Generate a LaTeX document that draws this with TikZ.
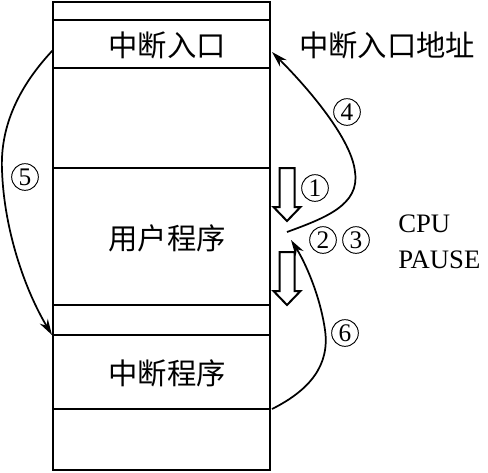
\documentclass[tikz,border=0pt]{standalone}
\usepackage{fontspec}
\setmainfont{Liberation Serif}
\newfontfamily\cjk{Noto Sans CJK SC}
\usetikzlibrary{arrows.meta}

\begin{document}
\begin{tikzpicture}[x=0.75pt, y=-0.75pt,
    mem/.style={line width=2.2pt},
    flow/.style={line width=1.3pt, -{Stealth[length=12pt, width=7pt]}},
    hollow/.style={line width=1.5pt, line join=miter},
    lbl/.style={font=\cjk\fontsize{22}{24}\selectfont, inner sep=0pt},
    num/.style={circle, draw, line width=0.7pt, minimum size=20pt, inner sep=0pt, font=\fontsize{19}{20}\selectfont},
    cpu/.style={font=\fontsize{20}{24}\selectfont, inner sep=0pt, anchor=west}]
  \useasboundingbox (0,0) rectangle (488,472);
  % memory column
  \draw[mem] (53,2) rectangle (270,470);
  \foreach \y in {20,68,168,305,335,409}
    \draw[mem] (53,\y) -- (270,\y);
  \node[lbl] (entry) at (167,45) {中断入口};
  \node[lbl] (user) at (167,238) {用户程序};
  \node[lbl] (isr) at (167,373) {中断程序};
  \node[lbl, anchor=west] (addr) at (299,45) {中断入口地址};
  \node[cpu] (cpu) at (398,224) {CPU};
  \node[cpu] (pause) at (398,260) {PAUSE};
  % program flow
  \foreach \t in {168,252}
    \draw[hollow] (279.5,\t) -- (279.5,\t+39) -- (273.5,\t+39) -- (287,\t+53)
      -- (300.5,\t+39) -- (294.5,\t+39) -- (294.5,\t) -- cycle;
  \coordinate (brk) at (287,232);
  \coordinate (ret) at (291,240);
  \coordinate (entryR) at (272,52);
  \coordinate (entryL) at (53,50);
  \coordinate (isrTop) at (52,335);
  \coordinate (isrEnd) at (272,409);
  \draw[flow] (brk) .. controls (325,218) and (360,205) .. (355,172) .. controls (352,140) and (310,90) .. (entryR);
  \draw[flow] (entryL) .. controls (20,85) and (0,125) .. (2,170) .. controls (4,230) and (25,290) .. (isrTop);
  \draw[flow] (isrEnd) .. controls (310,390) and (330,365) .. (325,330) .. controls (320,295) and (305,262) .. (ret);
  \node[num] (n1) at (315,188) {1};
  \node[num] (n2) at (323,240) {2};
  \node[num] (n3) at (356,240) {3};
  \node[num] (n4) at (347,112) {4};
  \node[num] (n5) at (25,177) {5};
  \node[num] (n6) at (345,333) {6};
\end{tikzpicture}
\end{document}
